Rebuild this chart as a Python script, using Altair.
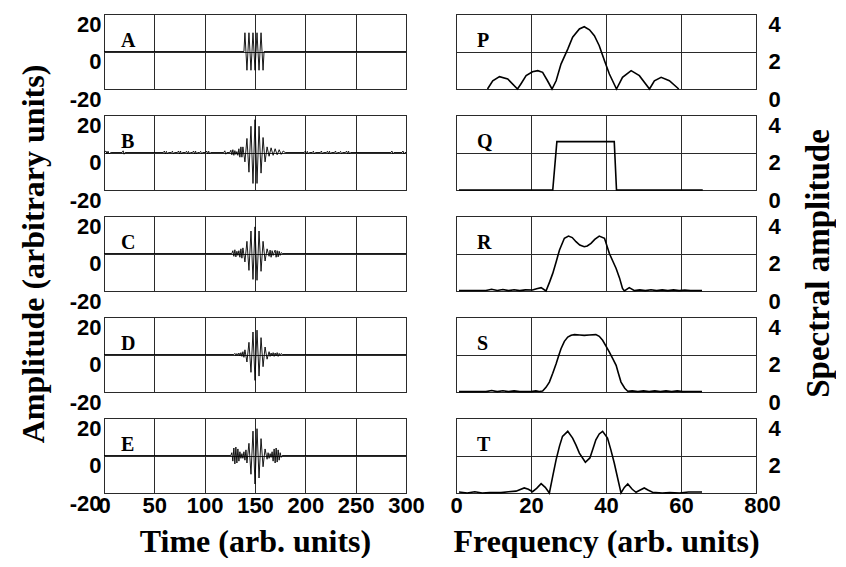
import altair as alt
import pandas as pd

# ---------------- axis ticks / labels ----------------
TIME_TICKS = [0, 50, 100, 150, 200, 250, 300]
FREQ_TICKS = [0, 20, 40, 60, 80]
AMP_TICKS = [-20, 0, 20]
SPEC_TICKS = [0, 2, 4]
TIME_LETTERS = ["A", "B", "C", "D", "E"]
FREQ_LETTERS = ["P", "Q", "R", "S", "T"]

# ---------------- time signals ----------------
A_T = [0, 139, 140, 142, 144, 146, 148, 150, 152, 154, 156, 158, 159, 300]
A_V = [0, 0, 10, -10, 10, -10, 10, -10, 10, -10, 10, -10, 0, 0]

B_T = [0, 2, 3, 4, 5, 7, 18, 19, 20, 21,
       59, 60, 61, 62, 63, 64, 67, 68, 69, 70, 73, 74, 75, 76, 77, 78,
       81, 82, 83, 84, 85, 86, 88, 89, 90, 91, 92, 93, 95, 96, 97, 98,
       101, 102, 103, 104, 105, 106,
       119, 120, 121, 122, 125, 126, 127, 128, 129, 130, 131, 132, 133, 134, 135, 136, 137,
       138, 140, 142, 144, 146, 148, 150, 152, 154, 156, 158, 160, 162, 164,
       166, 168, 170, 172, 174, 176, 178, 180,
       199, 200, 201, 202, 203, 204, 207, 208, 209, 210, 215, 216, 217, 218,
       221, 222, 223, 224, 225, 226, 229, 230, 231, 232, 234, 235, 236, 237,
       240, 241, 242, 243, 244, 245,
       285, 286, 287, 288, 296, 297, 298, 299, 300]
B_V = [0, 0.8, -0.8, 0.7, -0.7, 0, 0, 0.9, -0.9, 0,
       0, 0.8, -0.8, 0.6, -0.6, 0, 0, 0.7, -0.7, 0, 0, 0.8, -0.8, 0.8, -0.8, 0,
       0, 0.7, -0.7, 0.6, -0.6, 0, 0, 0.8, -0.8, 0.7, -0.7, 0, 0, 0.6, -0.6, 0,
       0, 0.8, -0.8, 0.7, -0.7, 0,
       0, 0.9, -0.9, 0, 0, 1.2, -1.2, 1.5, -1.5, 1.0, -1.0, 0.5, -1.5, 2.0, -2.5, 3.0, -2.5,
       3.0, -5.0, 7.5, -10.5, 14.0, -16.5, 17.5, -16.5, 14.0, -11.0, 8.0, -5.0, 3.0, -2.0,
       2.5, -1.5, 2.0, -1.2, 1.5, -1.0, 0.8, 0,
       0, 0.8, -0.8, 0.6, -0.6, 0, 0, 0.7, -0.7, 0, 0, 0.8, -0.8, 0,
       0, 0.7, -0.7, 0.7, -0.7, 0, 0, 0.8, -0.8, 0, 0, 0.6, -0.6, 0,
       0, 0.8, -0.8, 0.7, -0.7, 0,
       0, 0.8, -0.8, 0, 0, 0.8, -0.8, 0, 0]

C_T = [0, 127, 128, 129, 130, 131, 132, 133, 134, 135, 136, 137, 138,
       140, 142, 144, 146, 148, 150, 152, 154, 156, 158, 160, 162, 164,
       165, 166, 167, 168, 169, 170, 171, 172, 173, 174, 175, 176, 177, 300]
C_V = [0, 0, 1.5, -1.5, 2.0, -1.8, 1.2, -1.0, 1.5, -2.0, 2.5, -2.5, 3.0,
       -4.5, 6.5, -9.0, 12.0, -13.8, 14.2, -14.3, 12.0, -9.5, 6.5, -4.0, 2.5, -1.5,
       1.8, -2.0, 1.5, -1.0, 0.5, 1.8, -2.0, 1.5, -1.8, 1.2, -1.0, 0.5, 0, 0]

D_T = [0, 129, 130, 131, 132, 133, 134, 135, 136, 137, 138, 139,
       140, 142, 144, 146, 148, 150, 152, 154, 156, 158, 160, 162, 164,
       165, 166, 167, 168, 169, 170, 171, 172, 173, 174, 175, 176, 177, 300]
D_V = [0, 0, 0.6, -0.6, 0.5, -0.5, 0.8, -0.8, 1.0, -1.0, 1.5, -1.5,
       2.5, -4.0, 6.5, -9.5, 12.0, -13.8, 13.0, -11.5, 9.0, -6.5, 4.0, -2.5, 1.5,
       -1.0, 0.8, -0.8, 1.0, -1.0, 0.8, -0.8, 1.0, -1.0, 0.6, -0.6, 0.5, 0, 0]

E_T = [0, 126, 127, 128, 129, 130, 131, 132, 133, 134, 135, 136, 137, 138, 139, 140, 141,
       142, 144, 146, 148, 150, 152, 154, 156, 158, 160, 162,
       163, 164, 165, 166, 167, 168, 169, 170, 171, 172, 173, 174, 175, 176, 177, 300]
E_V = [0, 0, 1.5, -3.0, 4.0, -4.5, 4.5, -4.0, 3.5, -3.0, 2.0, -1.5, 1.0, -1.5, 2.0, -2.5, 3.0,
       -4.0, 6.5, -10.0, 13.0, -15.2, 14.3, -12.0, 9.0, -6.0, 3.5, -2.0,
       1.5, -1.5, 1.0, -1.0, 2.0, -3.0, 3.5, -4.0, 4.0, -3.5, 3.0, -2.5, 1.5, -1.0, 0, 0]

# ---------------- spectra ----------------
P_F = [8.4, 9.8, 11.6, 13.8, 16.4, 17.3, 18.7, 20.4, 21.8, 23.1, 24.4, 25.6,
       26.7, 28.0, 29.8, 31.1, 32.9, 34.2, 35.6, 36.9, 38.2, 39.6, 40.9, 42.8,
       44.4, 46.7, 48.9, 51.6, 52.9, 54.7, 56.9, 59.4]
P_A = [0, 0.44, 0.66, 0.53, 0, 0.27, 0.71, 0.92, 0.98, 0.89, 0.44, 0,
       0.44, 1.33, 2.13, 2.76, 3.2, 3.32, 3.16, 2.84, 2.31, 1.51, 0.8, 0,
       0.62, 0.98, 0.71, 0, 0.44, 0.62, 0.44, 0]

Q_F = [0.8, 25.8, 26.9, 42.2, 42.8, 65.8]
Q_A = [0, 0, 2.58, 2.58, 0, 0]

R_F = [0.8, 5, 8, 9.5, 11, 12.5, 14, 15.5, 17, 18.5, 20.4, 21.5, 22.7, 24, 25, 25.8,
       26.7, 27.6, 28.9, 30, 31, 32, 33, 34.2, 35, 36, 37, 38.2, 39.6, 40.9, 41.8, 42.7,
       43.6, 44.4, 44.9, 46.2, 47.6, 49, 50.5, 52, 53.5, 55, 56.5, 58, 59.5, 61, 62.5, 65.6]
R_A = [0.03, 0.03, 0.03, 0.09, 0.03, 0.08, 0.02, 0.07, 0.02, 0.06, 0.05, 0.12, 0.18, 0.0, 0.5, 0.94,
       1.55, 2.19, 2.81, 2.93, 2.85, 2.63, 2.45, 2.36, 2.4, 2.54, 2.75, 2.93, 2.81, 2.0, 1.6, 1.2,
       0.7, 0.14, 0.0, 0.18, 0.02, 0.06, 0.02, 0.07, 0.02, 0.06, 0.02, 0.06, 0.02, 0.05, 0.03, 0.03]

S_F = [0.8, 5, 8, 9.5, 11, 12.5, 14, 15.5, 17, 18.5, 20, 21.3, 22.2, 23.1, 24, 24.9,
       25.8, 26.7, 27.4, 28, 28.9, 29.8, 30.7, 31.6, 33, 34.2, 35.5, 37.3, 38.2, 39.1,
       40, 40.9, 41.8, 42.7, 43.3, 44, 45, 45.8, 47, 48.5, 50, 51.5, 53, 54.5, 56, 57.5,
       59, 60.5, 62, 65.6]
S_A = [0.02, 0.02, 0.02, 0.08, 0.02, 0.07, 0.02, 0.06, 0.02, 0.02, 0.02, 0.06, 0.03, 0.05, 0.25, 0.53,
       1.0, 1.51, 1.95, 2.31, 2.7, 2.93, 3.03, 3.06, 3.04, 3.02, 3.04, 3.06, 2.97, 2.76,
       2.45, 2.13, 1.78, 1.42, 1.0, 0.53, 0.2, 0.04, 0.06, 0.02, 0.06, 0.02, 0.06, 0.02, 0.06, 0.02,
       0.06, 0.02, 0.03, 0.03]

T_F = [0.8, 3, 5, 7, 9, 12, 14, 16, 18.2, 19.3, 20.4, 21.5, 22.7, 23.8, 24.9, 25.8,
       26.7, 27.6, 28.4, 29.8, 31.1, 32, 32.9, 34.5, 35.7, 36.5, 37.3, 38.2, 39.1, 40.4,
       41.3, 42.2, 43.1, 44, 44.9, 45.8, 47, 48, 49, 50.2, 51.3, 52.4, 55, 57, 59.6, 62, 65.6]
T_A = [0.05, 0.0, 0.07, 0.0, 0.02, 0.02, 0.07, 0.1, 0.27, 0.2, 0.07, 0.25, 0.5, 0.3, 0.0, 0.9,
       1.78, 2.5, 3.02, 3.29, 2.93, 2.55, 2.13, 1.64, 1.87, 2.35, 2.84, 3.15, 3.29, 2.93,
       2.3, 1.6, 0.8, 0.0, 0.3, 0.48, 0.2, 0.04, 0.15, 0.27, 0.15, 0.04, 0.0, 0.02, 0.0, 0.05, 0.05]

TIME_SERIES = [(A_T, A_V), (B_T, B_V), (C_T, C_V), (D_T, D_V), (E_T, E_V)]
SPEC_SERIES = [(P_F, P_A), (Q_F, Q_A), (R_F, R_A), (S_F, S_A), (T_F, T_A)]

SANS = "Liberation Sans"
SERIF = "Liberation Serif"
W_L, W_R, H = 302, 300, 75
GRID = "#2a2a2a"


def label_layer(letter, dx):
    return alt.Chart(pd.DataFrame({"label": [letter]})).mark_text(
        font=SERIF, fontSize=20, fontWeight="bold", align="left",
        baseline="alphabetic", color="black"
    ).encode(x=alt.value(dx), y=alt.value(33), text="label:N")


def common_axis(**kw):
    base = dict(grid=True, gridColor=GRID, gridWidth=1, gridOpacity=1,
                ticks=False, domain=False, labelFont=SANS, labelFontSize=22,
                labelFontWeight="bold", labelColor="black", labelFlush=False,
                labelOverlap=False, labelExpr="'' + datum.value",
                titleFont=SERIF, titleFontWeight="bold",
                titleColor="black", titleFontSize=32)
    base.update(kw)
    return alt.Axis(**base)


def time_panel(i):
    t, v = TIME_SERIES[i]
    df = pd.DataFrame({"t": t, "v": v})
    bottom = i == 4
    xkw = dict(values=TIME_TICKS, labels=bottom, labelPadding=2, title="")
    if bottom:
        xkw.update(title="Time (arb. units)", titlePadding=10)
    ykw = dict(values=AMP_TICKS, labelBaseline="top", labelPadding=3, title="")
    if i == 2:
        ykw.update(title="Amplitude (arbitrary units)", titlePadding=19)
    line = alt.Chart(df).mark_line(color="black", strokeWidth=0.9).encode(
        x=alt.X("t:Q", scale=alt.Scale(domain=[0, 300], nice=False), axis=common_axis(**xkw)),
        y=alt.Y("v:Q", scale=alt.Scale(domain=[-20, 20], nice=False), axis=common_axis(**ykw)),
        order="t:Q",
    )
    return alt.layer(line, label_layer(TIME_LETTERS[i], 17)).properties(width=W_L, height=H)


def spec_panel(i):
    f, a = SPEC_SERIES[i]
    df = pd.DataFrame({"f": f, "a": a})
    bottom = i == 4
    xkw = dict(values=FREQ_TICKS, labels=bottom, labelPadding=2, title="")
    if bottom:
        xkw.update(title="Frequency (arb. units)", titlePadding=10)
    ykw = dict(values=SPEC_TICKS, orient="right", labelBaseline="top", labelAlign="left",
               labelPadding=12, title="")
    if i == 2:
        ykw.update(title="Spectral amplitude", titlePadding=22, titleAngle=270,
                   titleBaseline="top", titleY=47, titleFontSize=33)
    line = alt.Chart(df).mark_line(color="black", strokeWidth=1.6).encode(
        x=alt.X("f:Q", scale=alt.Scale(domain=[0, 80], nice=False), axis=common_axis(**xkw)),
        y=alt.Y("a:Q", scale=alt.Scale(domain=[0, 4], nice=False), axis=common_axis(**ykw)),
        order="f:Q",
    )
    return alt.layer(line, label_layer(FREQ_LETTERS[i], 21)).properties(width=W_R, height=H)


panels = []
for i in range(5):
    panels.append(time_panel(i))
    panels.append(spec_panel(i))

chart = alt.concat(
    *panels, columns=2, spacing={"row": 26, "column": 50}, bounds="flush"
).properties(
    padding={"left": 8, "top": 4, "right": 0, "bottom": 0},
    background="white",
).configure_view(stroke="black", strokeWidth=1)

chart.save("out.html", embed_options={"renderer": "svg", "actions": False})
